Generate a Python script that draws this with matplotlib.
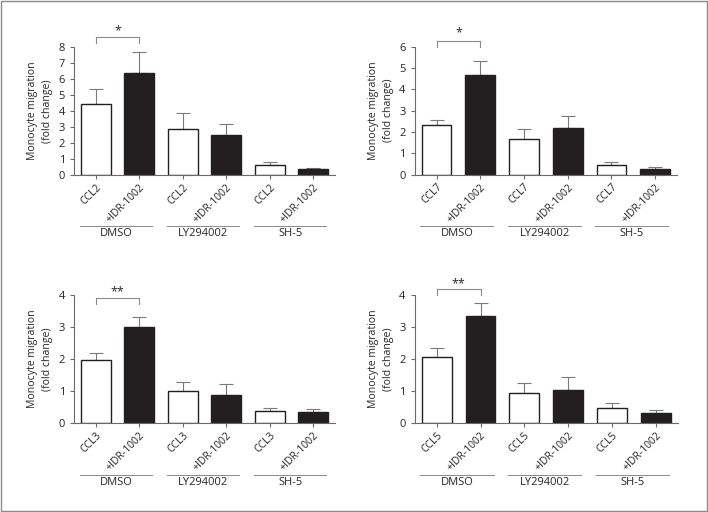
import matplotlib
matplotlib.use("Agg")
import matplotlib.pyplot as plt
from matplotlib.patches import Rectangle

plt.rcParams['font.family'] = ['Open Sans', 'DejaVu Sans']
plt.rcParams['font.size'] = 7

TEXT = '#262626'
AXIS = '#6a6a6a'

groups = ["DMSO", "LY294002", "SH-5"]
chemokines = ["CCL2", "CCL7", "CCL3", "CCL5"]

# mean values per panel (CCL, +IDR) x 3 groups
means = {
    "CCL2": [4.45, 6.40, 2.90, 2.48, 0.60, 0.38],
    "CCL7": [2.34, 4.66, 1.68, 2.20, 0.47, 0.28],
    "CCL3": [1.98, 2.98, 0.99, 0.87, 0.39, 0.35],
    "CCL5": [2.06, 3.34, 0.95, 1.04, 0.49, 0.32],
}
# top of the error bar
err_top = {
    "CCL2": [5.37, 7.68, 3.86, 3.17, 0.79, 0.41],
    "CCL7": [2.55, 5.31, 2.13, 2.75, 0.58, 0.35],
    "CCL3": [2.20, 3.30, 1.30, 1.21, 0.49, 0.46],
    "CCL5": [2.35, 3.75, 1.24, 1.43, 0.62, 0.41],
}
ymax = {"CCL2": 8, "CCL7": 6, "CCL3": 4, "CCL5": 4}
stars = {"CCL2": "*", "CCL7": "*", "CCL3": "**", "CCL5": "**"}
# bracket height / drop / star height (data units)
bracket = {
    "CCL2": (8.66, 8.28, 9.05),
    "CCL7": (6.28, 6.00, 6.65),
    "CCL3": (3.89, 3.70, 4.10),
    "CCL5": (4.17, 3.98, 4.35),
}

# axes rectangles in pixels: left, top, right, bottom
W, H = 708, 512
boxes = {
    "CCL2": (74, 47.3, 335, 174.7),
    "CCL7": (414.7, 46.7, 677, 174.7),
    "CCL3": (74, 294.7, 335, 423.3),
    "CCL5": (414.7, 294.7, 678, 423.3),
}

fig = plt.figure(figsize=(W / 100, H / 100), dpi=100)
fig.patches.append(Rectangle((0.001, 0.001), 0.997, 0.997, transform=fig.transFigure,
                             fill=False, edgecolor='#8a8a8a', lw=1.0))

for ck in chemokines:
    l, t, r, b = boxes[ck]
    ax = fig.add_axes([l / W, 1 - b / H, (r - l) / W, (b - t) / H])
    vals = means[ck]
    x = list(range(len(vals)))
    up = [e - v for e, v in zip(err_top[ck], vals)]
    colors = ['white', '#231f20'] * 3
    ax.errorbar(x, vals, yerr=[[0] * 6, up], fmt='none', ecolor='#7a7a7a',
                elinewidth=0.8, capsize=5, capthick=0.8, zorder=1)
    ax.bar(x, vals, width=0.68, color=colors, edgecolor='#231f20', linewidth=1.0, zorder=2)

    ax.set_xlim(-0.5, 5.5)
    ax.set_ylim(0, ymax[ck])
    ax.set_yticks(range(0, ymax[ck] + 1))
    ax.spines['top'].set_visible(False)
    ax.spines['right'].set_visible(False)
    for s in ['left', 'bottom']:
        ax.spines[s].set_color(AXIS)
        ax.spines[s].set_linewidth(0.8)
    ax.tick_params(colors=AXIS, labelcolor=TEXT, width=0.8, length=3, labelsize=8)
    ax.tick_params(axis='x', labelsize=7.5, pad=2)
    ax.set_xticks(x)
    ax.set_xticklabels([ck, "+IDR-1002"] * 3, rotation=45, ha='right', va='top',
                       rotation_mode='anchor')
    ax.set_ylabel("Monocyte migration\n(fold change)", color=TEXT, fontsize=7.6, labelpad=4,
                  linespacing=1.45)

    trans = ax.get_xaxis_transform()
    for i, g in enumerate(groups):
        x0 = 2 * i - 0.37
        x1 = 2 * i + 1.3
        ax.plot([x0, x1], [-0.40, -0.40], transform=trans, color='#8a8a8a', lw=0.7,
                clip_on=False)
        ax.text(2 * i + 0.47, -0.46, g, transform=trans, ha='center', va='center',
                color=TEXT, fontsize=8)

    yb, yd, ys = bracket[ck]
    ax.plot([0, 0, 1, 1], [yd, yb, yb, yd], color='#8a8a8a', lw=0.8, clip_on=False)
    ax.text(0.5, ys, stars[ck], ha='center', va='center', color=TEXT, fontsize=9)

fig.savefig("out.png", dpi=100)
